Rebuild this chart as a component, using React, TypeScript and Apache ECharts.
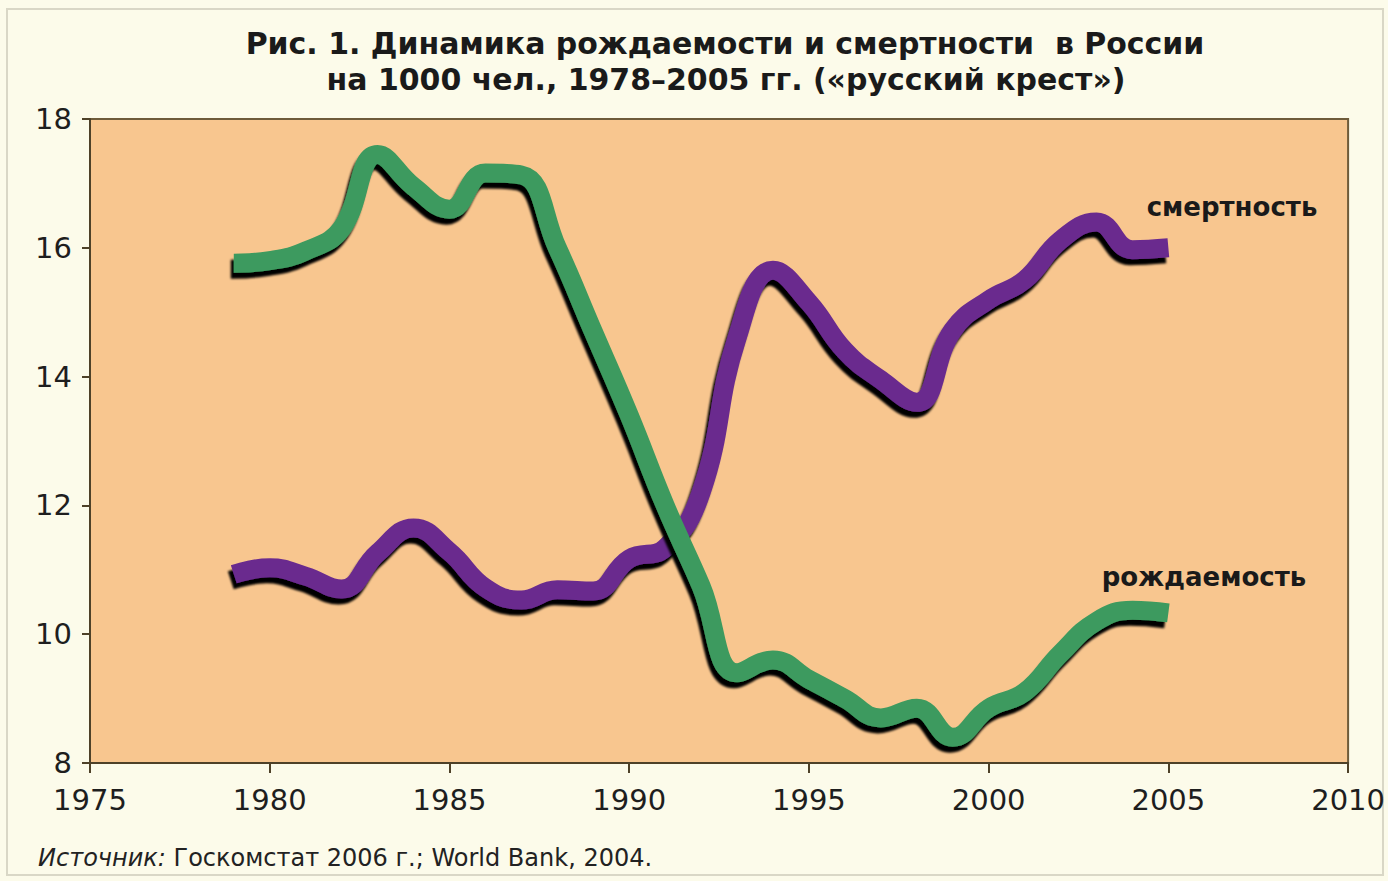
import React, { useEffect, useRef } from "react";
import * as echarts from "echarts";

const years = [1979, 1980, 1981, 1982, 1983, 1984, 1985, 1986, 1987, 1988, 1989, 1990, 1991, 1992, 1993, 1994, 1995, 1996, 1997, 1998, 1999, 2000, 2001, 2002, 2003, 2004, 2005];
// рождаемость (births per 1000)
const birthRate = [15.76, 15.8, 15.95, 16.3, 17.45, 16.95, 16.6, 17.16, 17.13, 16.0, 14.7, 13.4, 12.0, 10.75, 9.4, 9.6, 9.3, 9.0, 8.7, 8.85, 8.4, 8.85, 9.1, 9.7, 10.2, 10.37, 10.33];
// смертность (deaths per 1000)
const deathRate = [10.93, 11.03, 10.9, 10.7, 11.26, 11.65, 11.28, 10.72, 10.53, 10.69, 10.67, 11.17, 11.34, 12.2, 14.6, 15.65, 15.15, 14.4, 13.95, 13.6, 14.72, 15.19, 15.5, 16.12, 16.4, 15.97, 16.0];

const titleLines = [
  "Рис. 1. Динамика рождаемости и смертности  в России",
  "на 1000 чел., 1978–2005 гг. («русский крест»)",
];
const deathLabel = "смертность";
const birthLabel = "рождаемость";
const sourceLead = "Источник:";
const sourceRest = " Госкомстат 2006 г.; World Bank, 2004.";

const FONT = "'DejaVu Sans', 'Liberation Sans', sans-serif";
const TITLE_FONT = "'Liberation Sans Narrow', 'DejaVu Sans Condensed', 'Liberation Sans', sans-serif";

export default function App() {
  const ref = useRef<HTMLDivElement>(null);
  useEffect(() => {
    if (!ref.current) return;
    const chart = echarts.init(ref.current, null, { renderer: "svg" });
    const axisColor = "#4e4128";
    const lineShadow = {
      shadowColor: "rgba(0,0,0,1)",
      shadowBlur: 2,
      shadowOffsetX: -3,
      shadowOffsetY: 6,
    };
    const titleStyle = {
      textAlign: "center",
      textVerticalAlign: "middle",
      fontSize: 30,
      fontWeight: "bold",
      fontFamily: TITLE_FONT,
      fill: "#1a1a1a",
    };
    chart.setOption({
      animation: false,
      backgroundColor: "#fcfbea",
      grid: {
        left: 90,
        right: 28,
        top: 119,
        bottom: 118,
        show: true,
        backgroundColor: "#f8c68f",
        borderColor: "#6e5b3a",
        borderWidth: 2,
      },
      xAxis: {
        type: "value",
        min: 1975,
        max: 2010,
        interval: 5,
        axisLine: { show: true, lineStyle: { color: axisColor, width: 2 } },
        axisTick: { show: true, length: 10, lineStyle: { color: axisColor, width: 2 } },
        axisLabel: {
          fontSize: 29,
          color: "#1e1e1e",
          margin: 22,
          fontFamily: FONT,
          formatter: (v: number) => String(v),
        },
        splitLine: { show: false },
      },
      yAxis: {
        type: "value",
        min: 8,
        max: 18,
        interval: 2,
        axisLine: { show: true, lineStyle: { color: axisColor, width: 2 } },
        axisTick: { show: true, length: 8, lineStyle: { color: axisColor, width: 2 } },
        axisLabel: {
          fontSize: 29,
          color: "#1e1e1e",
          margin: 18,
          fontFamily: FONT,
          formatter: (v: number) => String(v),
        },
        splitLine: { show: false },
      },
      series: [
        {
          name: deathLabel,
          type: "line",
          smooth: 0.45,
          symbol: "none",
          z: 2,
          data: years.map((y, i) => [y, deathRate[i]]),
          lineStyle: { color: "#6a2b8e", width: 19, cap: "butt", join: "round", ...lineShadow },
        },
        {
          name: birthLabel,
          type: "line",
          smooth: 0.45,
          symbol: "none",
          z: 3,
          data: years.map((y, i) => [y, birthRate[i]]),
          lineStyle: { color: "#3e9a5e", width: 19, cap: "butt", join: "round", ...lineShadow },
        },
      ],
      graphic: [
        {
          type: "rect",
          shape: { x: 7, y: 9, width: 1376, height: 866 },
          style: { fill: "none", stroke: "#d9d7c6", lineWidth: 2 },
          silent: true,
        },
        {
          type: "text",
          x: 725,
          y: 44,
          scaleX: 1.11,
          style: { ...titleStyle, text: titleLines[0] },
        },
        {
          type: "text",
          x: 726,
          y: 80,
          scaleX: 1.11,
          style: { ...titleStyle, text: titleLines[1] },
        },
        {
          type: "text",
          x: 1232,
          y: 207,
          z: 10,
          style: {
            text: deathLabel,
            textAlign: "center",
            textVerticalAlign: "middle",
            fontSize: 26,
            fontWeight: "bold",
            fontFamily: FONT,
            fill: "#1a1a1a",
          },
        },
        {
          type: "text",
          x: 1204,
          y: 577,
          z: 10,
          style: {
            text: birthLabel,
            textAlign: "center",
            textVerticalAlign: "middle",
            fontSize: 26,
            fontWeight: "bold",
            fontFamily: FONT,
            fill: "#1a1a1a",
          },
        },
        {
          type: "text",
          x: 38,
          y: 858,
          style: {
            text: "{i|" + sourceLead + "}{n|" + sourceRest + "}",
            textVerticalAlign: "middle",
            rich: {
              i: { fontSize: 24, fontStyle: "italic", fontFamily: FONT, fill: "#222" },
              n: { fontSize: 24, fontFamily: FONT, fill: "#222" },
            },
          },
        },
      ],
    });
    return () => chart.dispose();
  }, []);
  return (
    <div
      ref={ref}
      style={{ position: "fixed", left: 0, top: 0, width: 1388, height: 881 }}
    />
  );
}
